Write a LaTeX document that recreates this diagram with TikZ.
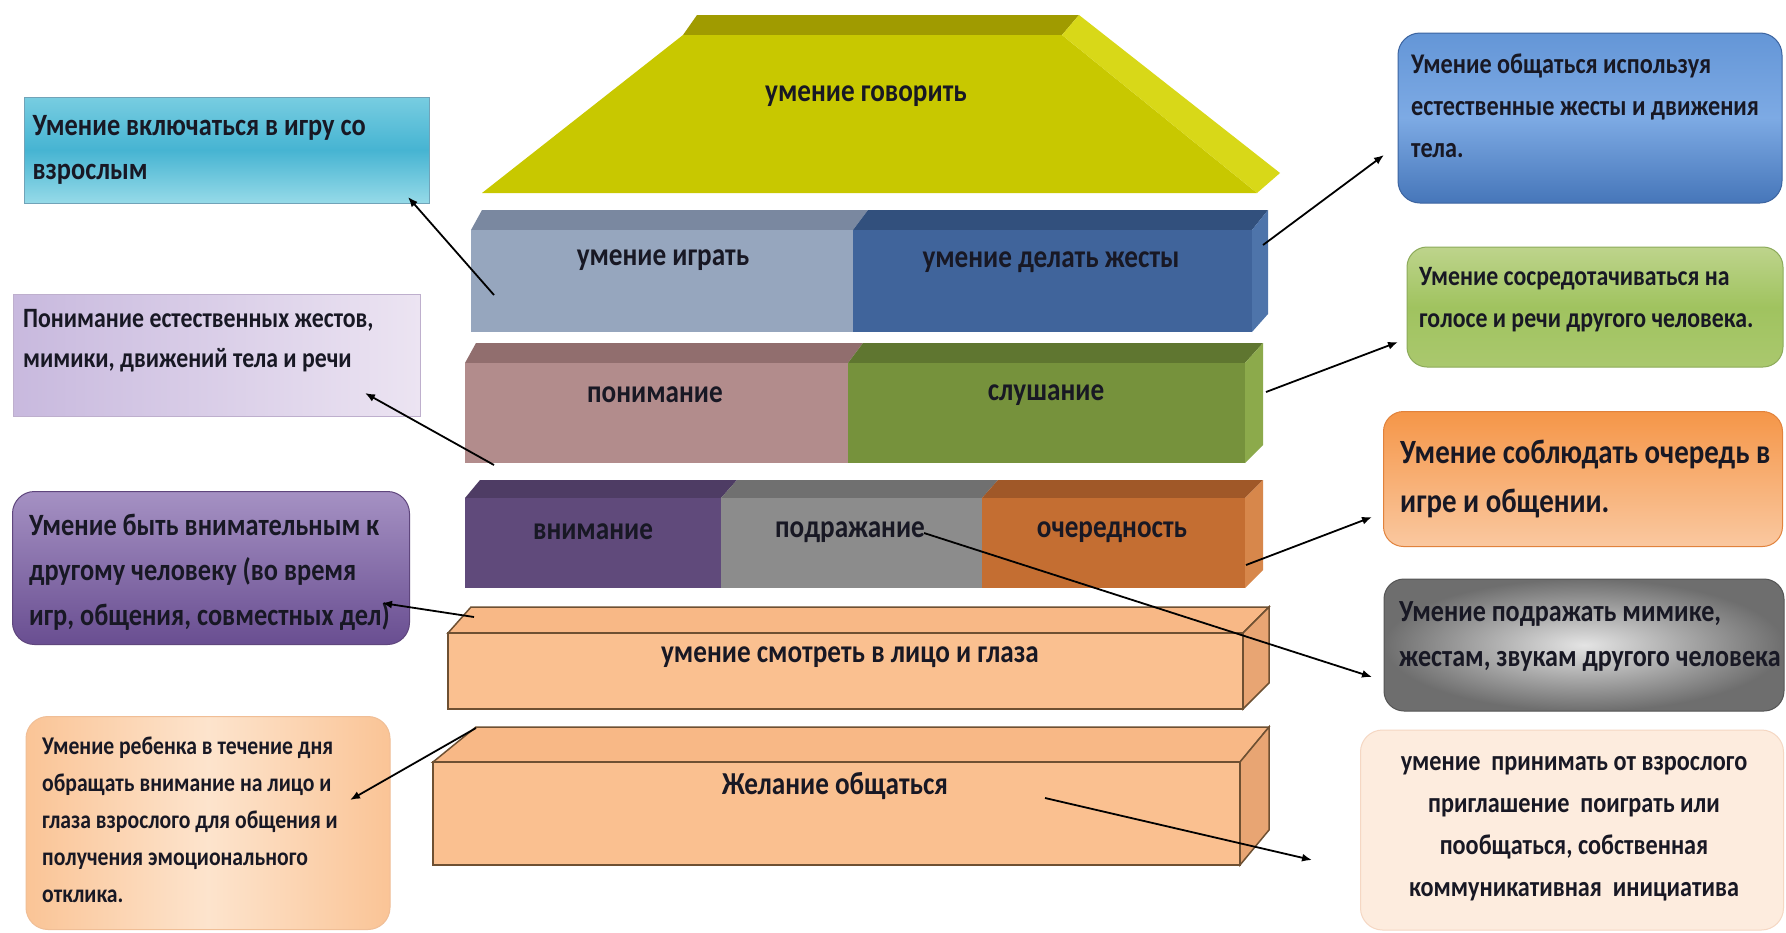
\documentclass[tikz,border=0pt]{standalone}
\usepackage{fontspec}
\usetikzlibrary{arrows.meta}
\newfontfamily\lblfont{Carlito}[FakeStretch=0.85]
\newcommand\setfs[2]{\fontsize{#1}{#2}\selectfont}
\definecolor{txtdark}{RGB}{24,24,36}
\definecolor{yfront}{RGB}{200,200,0}
\definecolor{ytop}{RGB}{160,155,0}
\definecolor{yside}{RGB}{216,216,24}
\definecolor{rAfront}{RGB}{150,166,190}
\definecolor{rAtop}{RGB}{122,136,160}
\definecolor{rBfront}{RGB}{64,100,155}
\definecolor{rBtop}{RGB}{50,80,125}
\definecolor{rBside}{RGB}{78,116,170}
\definecolor{rCfront}{RGB}{178,140,140}
\definecolor{rCtop}{RGB}{145,110,110}
\definecolor{rDfront}{RGB}{118,146,60}
\definecolor{rDtop}{RGB}{95,118,48}
\definecolor{rDside}{RGB}{140,170,75}
\definecolor{rEfront}{RGB}{96,74,123}
\definecolor{rEtop}{RGB}{78,60,100}
\definecolor{rFfront}{RGB}{140,140,140}
\definecolor{rFtop}{RGB}{112,112,112}
\definecolor{rGfront}{RGB}{196,110,50}
\definecolor{rGtop}{RGB}{160,88,40}
\definecolor{rGside}{RGB}{215,135,75}
\definecolor{pfront}{RGB}{250,192,144}
\definecolor{ptop}{RGB}{248,184,134}
\definecolor{pside}{RGB}{232,165,115}
\definecolor{pline}{RGB}{110,80,50}
\begin{document}
\begin{tikzpicture}[x=1pt,y=-1pt,
  barlbl/.style={font=\lblfont\bfseries\setfs{32}{38}, text=txtdark, inner sep=0pt},
  sidebox/.style={line width=1pt, inner sep=0pt},
  boxtxt/.style={text=txtdark, align=flush left, anchor=west, inner sep=0pt},
  conn/.style={-{Latex[length=10pt,width=8pt]}, line width=1.8pt, black}
]
\useasboundingbox (0,0) rectangle (1786,932);
\fill[white] (0,0) rectangle (1786,932);

% top trapezoid
\fill[ytop] (697,15) -- (1079,15) -- (1062,35) -- (683,35) -- cycle;
\fill[yfront] (683,35) -- (1062,35) -- (1257,193) -- (482,193) -- cycle;
\fill[yside] (1062,35) -- (1079,15) -- (1280,173) -- (1257,193) -- cycle;
\node[barlbl] (speak) at (866,96) {умение говорить};

% row 2
\fill[rAtop] (482,210) -- (868,210) -- (853,230) -- (471,230) -- cycle;
\fill[rAfront] (471,230) rectangle (853,332);
\fill[rBtop] (868,210) -- (1268,210) -- (1252,230) -- (853,230) -- cycle;
\fill[rBfront] (853,230) rectangle (1252,332);
\fill[rBside] (1252,230) -- (1268,210) -- (1268,314) -- (1252,332) -- cycle;
\node[barlbl] (play) at (663,260) {умение играть};
\node[barlbl] (gest) at (1051,262) {умение делать жесты};

% row 3
\fill[rCtop] (476,343) -- (863,343) -- (848,363) -- (465,363) -- cycle;
\fill[rCfront] (465,363) rectangle (848,463);
\fill[rDtop] (863,343) -- (1263,343) -- (1245,363) -- (848,363) -- cycle;
\fill[rDfront] (848,363) rectangle (1245,463);
\fill[rDside] (1245,363) -- (1263,343) -- (1263,445) -- (1245,463) -- cycle;
\node[barlbl] (under) at (655,395) {понимание};
\node[barlbl] (listen) at (1046,395) {слушание};

% row 4
\fill[rEtop] (480,480) -- (737,480) -- (721,498) -- (465,498) -- cycle;
\fill[rEfront] (465,498) rectangle (721,588);
\fill[rFtop] (737,480) -- (998,480) -- (982,498) -- (721,498) -- cycle;
\fill[rFfront] (721,498) rectangle (982,588);
\fill[rGtop] (998,480) -- (1263,480) -- (1245,498) -- (982,498) -- cycle;
\fill[rGfront] (982,498) rectangle (1245,588);
\fill[rGside] (1245,498) -- (1263,480) -- (1263,570) -- (1245,588) -- cycle;
\node[barlbl] (attn) at (593,532) {внимание};
\node[barlbl] (imit) at (850,532) {подражание};
\node[barlbl] (turn) at (1112,532) {очередность};

% row 5
\filldraw[fill=ptop, draw=pline, line width=1.5pt] (471,607) -- (1269,607) -- (1243,633) -- (448,633) -- cycle;
\filldraw[fill=pfront, draw=pline, line width=1.5pt] (448,633) rectangle (1243,709);
\filldraw[fill=pside, draw=pline, line width=1.5pt] (1243,633) -- (1269,607) -- (1269,683) -- (1243,709) -- cycle;
\node[barlbl] (look) at (850,657) {умение смотреть в лицо и глаза};

% row 6
\filldraw[fill=ptop, draw=pline, line width=1.5pt] (476,727) -- (1269,727) -- (1240,762) -- (433,762) -- cycle;
\filldraw[fill=pfront, draw=pline, line width=1.5pt] (433,762) rectangle (1240,865);
\filldraw[fill=pside, draw=pline, line width=1.5pt] (1240,762) -- (1269,727) -- (1269,830) -- (1240,865) -- cycle;
\node[barlbl] (wish) at (835,786) {Желание общаться};

% left boxes
\node[sidebox, draw=cyan!40!gray, top color={rgb,255:red,120;green,205;blue,225}, bottom color={rgb,255:red,150;green,218;blue,232}, middle color={rgb,255:red,70;green,180;blue,210},
  minimum width=405pt, minimum height=106pt] (bcyan) at (227,150) {};
\node[boxtxt, font=\lblfont\bfseries\setfs{31}{44}] (tcyan) at (32.5,150)
  {Умение включаться в игру со\\взрослым};

\node[sidebox, draw={rgb,255:red,190;green,175;blue,205}, left color={rgb,255:red,200;green,185;blue,222}, right color={rgb,255:red,236;green,228;blue,242},
  minimum width=407pt, minimum height=122pt] (blav) at (217,355) {};
\node[boxtxt, font=\lblfont\bfseries\setfs{28}{40}] (tlav) at (23,341)
  {Понимание естественных жестов,\\мимики, движений тела и речи};

\node[sidebox, draw={rgb,255:red,95;green,70;blue,125}, rounded corners=22pt, top color={rgb,255:red,165;green,145;blue,195}, bottom color={rgb,255:red,105;green,78;blue,145},
  minimum width=397pt, minimum height=153pt] (bpur) at (211,568) {};
\node[boxtxt, font=\lblfont\bfseries\setfs{31}{45}] (tpur) at (29,572)
  {Умение быть внимательным к\\другому человеку (во время\\игр, общения, совместных дел)};

\node[sidebox, draw={rgb,255:red,240;green,190;blue,150}, rounded corners=22pt, left color={rgb,255:red,250;green,196;blue,150}, right color={rgb,255:red,250;green,196;blue,150}, middle color={rgb,255:red,253;green,228;blue,205},
  minimum width=364pt, minimum height=213pt] (bpeach) at (208,823) {};
\node[boxtxt, font=\lblfont\bfseries\setfs{25.5}{37}] (tpeach) at (42,820)
  {Умение ребенка в течение дня\\обращать внимание на лицо и\\глаза взрослого для общения и\\получения эмоционального\\отклика.};

% right boxes
\node[sidebox, draw={rgb,255:red,60;green,100;blue,160}, rounded corners=22pt, top color={rgb,255:red,100;green,150;blue,215}, bottom color={rgb,255:red,70;green,118;blue,185}, middle color={rgb,255:red,125;green,170;blue,228},
  minimum width=384pt, minimum height=170pt] (bblue) at (1590,118) {};
\node[boxtxt, font=\lblfont\bfseries\setfs{28.5}{42}] (tblue) at (1411,106)
  {Умение общаться используя\\естественные жесты и движения\\тела.};

\node[sidebox, draw={rgb,255:red,140;green,170;blue,90}, rounded corners=20pt, top color={rgb,255:red,190;green,212;blue,140}, bottom color={rgb,255:red,170;green,200;blue,110}, middle color={rgb,255:red,160;green,195;blue,95},
  minimum width=376pt, minimum height=120pt] (bgreen) at (1595,307) {};
\node[boxtxt, font=\lblfont\bfseries\setfs{28}{42}] (tgreen) at (1419,300)
  {Умение сосредотачиваться на\\голосе и речи другого человека.};

\node[sidebox, draw={rgb,255:red,225;green,130;blue,60}, rounded corners=20pt, top color={rgb,255:red,245;green,150;blue,72}, bottom color={rgb,255:red,250;green,200;blue,160},
  minimum width=399pt, minimum height=135pt] (borange) at (1583,479) {};
\node[boxtxt, font=\lblfont\bfseries\setfs{34}{49}] (torange) at (1400,479)
  {Умение соблюдать очередь в\\игре и общении.};

\node[sidebox, draw={rgb,255:red,85;green,85;blue,85}, rounded corners=20pt, inner color={rgb,255:red,228;green,228;blue,228}, outer color={rgb,255:red,110;green,110;blue,110},
  minimum width=400pt, minimum height=132pt] (bgray) at (1584,645) {};
\node[boxtxt, font=\lblfont\bfseries\setfs{30.7}{45}] (tgray) at (1399,636.5)
  {Умение подражать мимике,\\жестам, звукам другого человека};

\node[sidebox, draw={rgb,255:red,245;green,215;blue,195}, rounded corners=22pt, fill={rgb,255:red,253;green,236;blue,222},
  minimum width=423pt, minimum height=200pt] (bcream) at (1572,830) {};
\node[boxtxt, font=\lblfont\bfseries\setfs{28.5}{42}, align=flush center, anchor=center] (tcream) at (1574,829)
  {умение\ \ принимать от взрослого\\приглашение\ \ поиграть или\\пообщаться, собственная\\коммуникативная\ \ инициатива};

% connector end points
\coordinate (a1) at (494,295); \coordinate (a2) at (408,197);
\coordinate (b1) at (494,465); \coordinate (b2) at (365,393);
\coordinate (c1) at (474,617); \coordinate (c2) at (382,603);
\coordinate (d1) at (476,728); \coordinate (d2) at (350,800);
\coordinate (e1) at (1263,245); \coordinate (e2) at (1384,155);
\coordinate (f1) at (1266,392); \coordinate (f2) at (1398,342);
\coordinate (g1) at (1246,565); \coordinate (g2) at (1372,517);
\coordinate (h1) at (924,533); \coordinate (h2) at (1372,677);
\coordinate (i1) at (1045,798); \coordinate (i2) at (1312,860);

\draw[conn] (a1) -- (a2);
\draw[conn] (b1) -- (b2);
\draw[conn] (c1) -- (c2);
\draw[conn] (d1) -- (d2);
\draw[conn] (e1) -- (e2);
\draw[conn] (f1) -- (f2);
\draw[conn] (g1) -- (g2);
\draw[conn] (h1) -- (h2);
\draw[conn] (i1) -- (i2);
\end{tikzpicture}
\end{document}
